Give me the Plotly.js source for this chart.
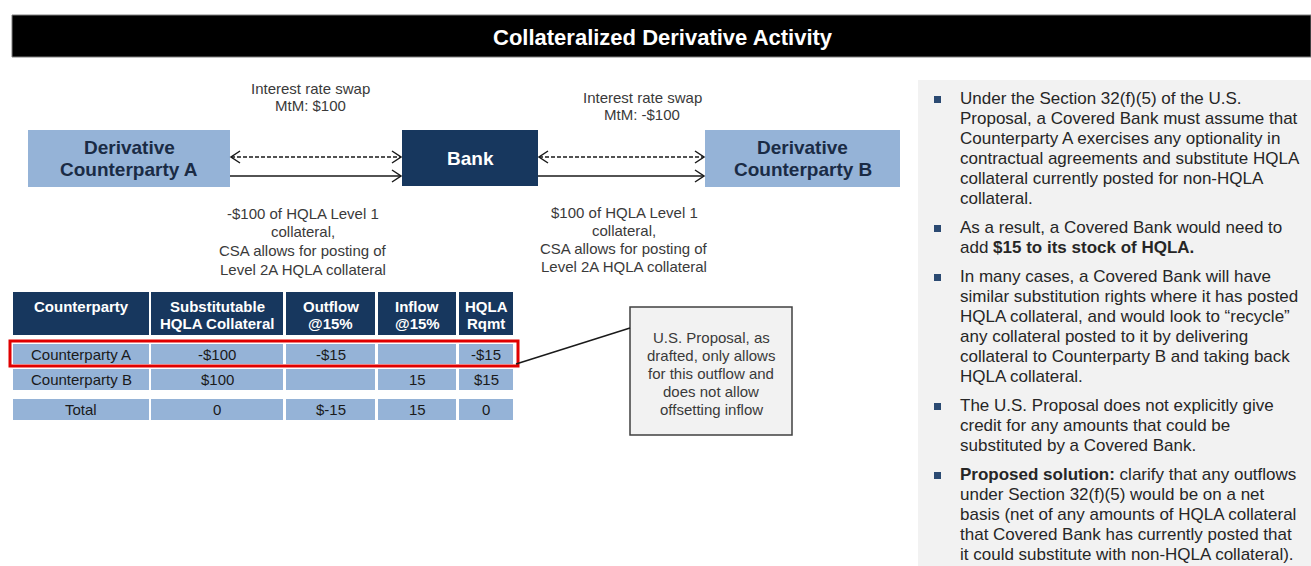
<!DOCTYPE html>
<html><head><meta charset="utf-8">
<script src="https://cdn.plot.ly/plotly-3.0.1.min.js"></script>
<style>html,body{margin:0;padding:0;background:#fff;overflow:hidden}</style>
</head><body><div id="chart" style="width:1311px;height:566px"></div>
<script>
// ---------- content ----------
const chartTitle = "Collateralized Derivative Activity";
const nodeLabels = [["Derivative", "Counterparty A"], ["Bank"], ["Derivative", "Counterparty B"]];
const swapLabelsLeft = ["Interest rate swap", "MtM: $100"];
const swapLabelsRight = ["Interest rate swap", "MtM: -$100"];
const collateralLeft = ["-$100 of HQLA Level 1", "collateral,", "CSA allows for posting of", "Level 2A HQLA collateral"];
const collateralRight = ["$100 of HQLA Level 1", "collateral,", "CSA allows for posting of", "Level 2A HQLA collateral"];
const tableHeaders = [["Counterparty"], ["Substitutable", "HQLA Collateral"], ["Outflow", "@15%"], ["Inflow", "@15%"], ["HQLA", "Rqmt"]];
const rowLabels = ["Counterparty A", "Counterparty B", "Total"];
const substitutable = ["-$100", "$100", "0"];
const outflow = ["-$15", "", "$-15"];
const inflow = ["", "15", "15"];
const hqlaRqmt = ["-$15", "$15", "0"];
const calloutLines = ["U.S. Proposal, as", "drafted, only allows", "for this outflow and", "does not allow", "offsetting inflow"];
const bullet1 = ["Under the Section 32(f)(5) of the U.S.", "Proposal, a Covered Bank must assume that", "Counterparty A exercises any optionality in", "contractual agreements and substitute HQLA", "collateral currently posted for non-HQLA", "collateral."];
const bullet2 = ["As a result, a Covered Bank would need to", "add <b>$15 to its stock of HQLA.</b>"];
const bullet3 = ["In many cases, a Covered Bank will have", "similar substitution rights where it has posted", "HQLA collateral, and would look to \u201crecycle\u201d", "any collateral posted to it by delivering", "collateral to Counterparty B and taking back", "HQLA collateral."];
const bullet4 = ["The U.S. Proposal does not explicitly give", "credit for any amounts that could be", "substituted by a Covered Bank."];
const bullet5 = ["<b>Proposed solution:</b> clarify that any outflows", "under Section 32(f)(5) would be on a net", "basis (net of any amounts of HQLA collateral", "that Covered Bank has currently posted that", "it could substitute with non-HQLA collateral)."];

// ---------- styling ----------
const FONT = "Liberation Sans, Arial, sans-serif";
const NAVY = "#17375E", LIGHT = "#95B3D7", GREYTXT = "#3a3a3a", DARKTXT = "#262626";

const shapes = [], annotations = [];
function rect(x0, y0, x1, y1, fill, line) {
  shapes.push({type: "rect", xref: "x", yref: "y", x0, y0, x1, y1, fillcolor: fill || "rgba(0,0,0,0)",
    line: line || {width: 0}, layer: "below"});
}
function seg(x0, y0, x1, y1, color, width, dash) {
  shapes.push({type: "line", xref: "x", yref: "y", x0, y0, x1, y1, line: {color, width, dash: dash || "solid"}});
}
function path(d, color, width) {
  shapes.push({type: "path", xref: "x", yref: "y", path: d, line: {color, width}});
}
function text(t, x, y, size, color, opts) {
  opts = opts || {};
  annotations.push(Object.assign({text: t, x, y, xref: "x", yref: "y", showarrow: false,
    xanchor: "center", yanchor: "middle", font: {family: FONT, size, color}}, opts));
}
function lines(arr, x, y0, dy, size, color, opts) {
  arr.forEach((t, i) => text(t, x, y0 + i * dy, size, color, opts));
}

// title bar
rect(12, 15, 1311, 57, "#000000", {color: "#7f7f7f", width: 1});
text("<b>" + chartTitle + "</b>", 663, 37, 22, "#ffffff");

// right panel
rect(918, 80, 1311, 566, "#F2F2F2");

// nodes
const nodeBoxes = [[28, 130, 230, 187, LIGHT, "#1a2b45"], [402, 130, 538, 186, NAVY, "#ffffff"], [705, 130, 900, 187, LIGHT, "#1a2b45"]];
nodeBoxes.forEach((b, i) => {
  rect(b[0], b[1], b[2], b[3], b[4]);
  const cx = (b[0] + b[2]) / 2, cy = (b[1] + b[3]) / 2;
  const n = nodeLabels[i].length;
  nodeLabels[i].forEach((t, k) => text("<b>" + t + "</b>", cx, cy + (k - (n - 1) / 2) * 22, 19, b[5]));
});

// arrows
function arrowPair(xa, xb) {
  seg(xa + 1, 157, xb - 1, 157, "#1a1a1a", 1.3, "4px,2px");
  path(`M ${xa + 10},151 L ${xa + 1},157 L ${xa + 10},163`, "#1a1a1a", 1.5);
  path(`M ${xb - 10},151 L ${xb - 1},157 L ${xb - 10},163`, "#1a1a1a", 1.5);
  seg(xa, 176, xb - 1, 176, "#1a1a1a", 1.5);
  path(`M ${xb - 10},170 L ${xb - 1},176 L ${xb - 10},182`, "#1a1a1a", 1.5);
}
arrowPair(230, 402);
arrowPair(538, 705);

// labels around arrows
lines(swapLabelsLeft, 310, 88, 17, 15, GREYTXT);
lines(swapLabelsRight, 642, 97, 17, 15, GREYTXT);
lines(collateralLeft, 303, 213, 18.7, 15, GREYTXT);
lines(collateralRight, 624, 212, 18, 15, GREYTXT);

// table
const colEdges = [[13, 149], [151, 283], [286, 375], [378, 456], [459, 513]];
const rowEdges = [[344, 364], [369, 390], [399, 420]];
const columns = [rowLabels, substitutable, outflow, inflow, hqlaRqmt];
colEdges.forEach((c, j) => {
  rect(c[0], 292, c[1], 335, NAVY);
  const cx = (c[0] + c[1]) / 2;
  tableHeaders[j].forEach((t, k) => text("<b>" + t + "</b>", cx, 306 + k * 17, 15, "#ffffff"));
  rowEdges.forEach((r, i) => {
    rect(c[0], r[0], c[1], r[1], LIGHT);
    if (columns[j][i]) text(columns[j][i], cx, (r[0] + r[1]) / 2, 15, "#1a1a1a");
  });
});
// highlight of counterparty A row
shapes.push({type: "rect", xref: "x", yref: "y", x0: 10, y0: 341, x1: 518, y1: 366,
  line: {color: "#E00000", width: 3}, fillcolor: "rgba(0,0,0,0)"});

// callout
seg(516, 364, 630, 328, "#1a1a1a", 1.5);
rect(630, 307, 792, 435, "#F2F2F2", {color: "#404040", width: 1.5});
lines(calloutLines, 711, 337, 18, 15, GREYTXT);

// bullets
const bullets = [bullet1, bullet2, bullet3, bullet4, bullet5];
let y = 98;
bullets.forEach(b => {
  shapes.push({type: "rect", xref: "x", yref: "y", x0: 934, y0: y - 2, x1: 941, y1: y + 5,
    fillcolor: "#2B4A72", line: {width: 0}});
  b.forEach((t, i) => text(t, 958, y + i * 20, 17, DARKTXT, {xanchor: "left"}));
  y += b.length * 20 + 9;
});

const layout = {
  width: 1311, height: 566, margin: {l: 0, r: 0, t: 0, b: 0},
  paper_bgcolor: "#ffffff", plot_bgcolor: "#ffffff", showlegend: false,
  xaxis: {range: [0, 1311], autorange: false, visible: false, fixedrange: true},
  yaxis: {range: [566, 0], autorange: false, visible: false, fixedrange: true},
  shapes, annotations
};
Plotly.newPlot("chart", [{x: [], y: [], type: "scatter", mode: "markers", hoverinfo: "skip"}], layout,
  {staticPlot: true, displayModeBar: false});
</script></body></html>
